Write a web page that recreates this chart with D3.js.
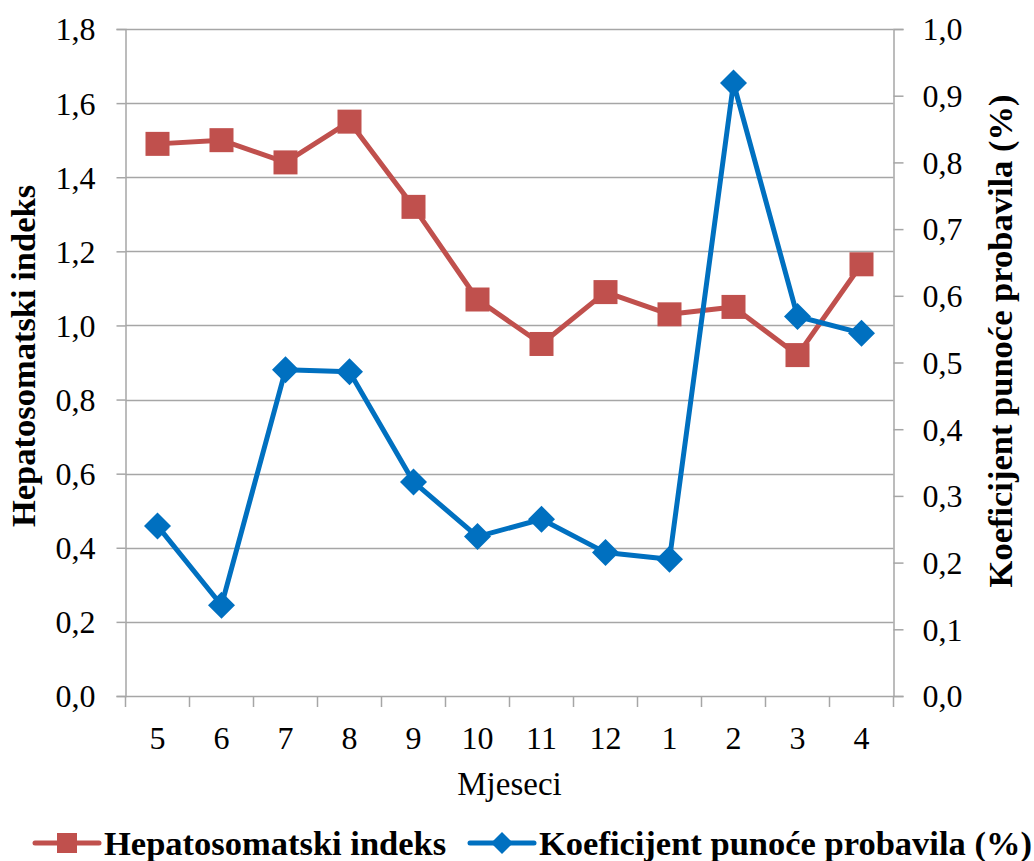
<!DOCTYPE html>
<html>
<head>
<meta charset="utf-8">
<script src="https://cdn.jsdelivr.net/npm/d3@7"></script>
<style>
  html, body { margin: 0; padding: 0; background: #fff; }
  svg { display: block; }
  text { font-family: "Liberation Serif", "Times New Roman", serif; fill: #000; }
</style>
</head>
<body>
<svg id="chart" width="1034" height="861"></svg>
<script>
// Months of the sampling year (May through April)
const months = ["5", "6", "7", "8", "9", "10", "11", "12", "1", "2", "3", "4"];
// Hepatosomatic index (left axis)
const hepatosomatskiIndeks = [1.49, 1.50, 1.44, 1.55, 1.32, 1.07, 0.95, 1.09, 1.03, 1.05, 0.92, 1.165];
// Gut fullness coefficient, % (right axis)
const koeficijentPunoce = [0.255, 0.136, 0.489, 0.486, 0.321, 0.239, 0.265, 0.215, 0.205, 0.919, 0.569, 0.544];
// Axis ticks
const leftTicks = [0, 0.2, 0.4, 0.6, 0.8, 1.0, 1.2, 1.4, 1.6, 1.8];
const rightTicks = [0, 0.1, 0.2, 0.3, 0.4, 0.5, 0.6, 0.7, 0.8, 0.9, 1.0];

const svg = d3.select("#chart");
const plot = { left: 125.5, right: 893.5, top: 29, bottom: 696 };
const red = "#C0504D", blue = "#0070C0", grid = "#a6a6a6";
const tickFont = 32;
const titleFont = 34.5;

const x = d3.scaleBand().domain(months).range([plot.left, plot.right]).padding(0);
const yL = d3.scaleLinear().domain([0, 1.8]).range([plot.bottom, plot.top]);
const yR = d3.scaleLinear().domain([0, 1.0]).range([plot.bottom, plot.top]);
const fmt = v => d3.format(".1f")(v).replace(".", ",");

// Horizontal gridlines from the left axis
svg.append("g").selectAll("line").data(leftTicks.slice(1)).join("line")
  .attr("x1", plot.left).attr("x2", plot.right)
  .attr("y1", d => Math.round(yL(d)) + 0.5).attr("y2", d => Math.round(yL(d)) + 0.5)
  .attr("stroke", grid).attr("stroke-width", 1.5);

// Left axis
const gL = svg.append("g").attr("transform", `translate(${plot.left},0)`)
  .call(d3.axisLeft(yL).tickValues(leftTicks).tickFormat(fmt).tickSize(9).tickPadding(21));
// Right axis
const gR = svg.append("g").attr("transform", `translate(${plot.right},0)`)
  .call(d3.axisRight(yR).tickValues(rightTicks).tickFormat(fmt).tickSize(10).tickPadding(19));
[gL, gR].forEach(g => {
  g.select(".domain").attr("stroke", grid).attr("stroke-width", 1.5);
  g.selectAll(".tick line").attr("stroke", grid).attr("stroke-width", 1.5);
  g.selectAll(".tick text").style("font-size", tickFont + "px").attr("dy", "0.34em");
});

// Bottom axis: labels centred in each band, ticks on band boundaries
const gX = svg.append("g").attr("transform", `translate(0,${plot.bottom})`)
  .call(d3.axisBottom(x).tickSize(0).tickPadding(30));
gX.select(".domain").attr("stroke", grid).attr("stroke-width", 1.5);
gX.selectAll(".tick text").style("font-size", tickFont + "px");
const boundaries = months.map(m => x(m)).concat([x.range()[1]]);
gX.append("g").selectAll("line").data(boundaries).join("line")
  .attr("x1", d => d).attr("x2", d => d).attr("y1", 0).attr("y2", 11)
  .attr("stroke", grid).attr("stroke-width", 1.5);

// Series
const cx = (d, i) => x(months[i]) + x.bandwidth() / 2;
const lineL = d3.line().x(cx).y(d => yL(d));
const lineR = d3.line().x(cx).y(d => yR(d));

svg.append("path").datum(hepatosomatskiIndeks).attr("d", lineL)
  .attr("fill", "none").attr("stroke", red).attr("stroke-width", 5).attr("stroke-linejoin", "round");
svg.append("g").selectAll("rect").data(hepatosomatskiIndeks).join("rect")
  .attr("x", (d, i) => cx(d, i) - 12).attr("y", d => yL(d) - 12)
  .attr("width", 24).attr("height", 24).attr("fill", red);

svg.append("path").datum(koeficijentPunoce).attr("d", lineR)
  .attr("fill", "none").attr("stroke", blue).attr("stroke-width", 5).attr("stroke-linejoin", "round");
const diamond = r => `M0,${-r}L${r},0L0,${r}L${-r},0Z`;
svg.append("g").selectAll("path").data(koeficijentPunoce).join("path")
  .attr("transform", (d, i) => `translate(${cx(d, i)},${yR(d)})`)
  .attr("d", diamond(13.5)).attr("fill", blue);

// Axis titles
svg.append("text").attr("transform", "translate(35,356) rotate(-90)")
  .attr("text-anchor", "middle").style("font-size", titleFont + "px").style("font-weight", "bold")
  .text("Hepatosomatski indeks");
svg.append("text").attr("transform", "translate(1000,341) rotate(-90)")
  .attr("text-anchor", "middle").attr("dy", "0.35em").style("font-size", titleFont + "px").style("font-weight", "bold")
  .text("Koeficijent punoće probavila (%)");
svg.append("text").attr("x", (plot.left + plot.right) / 2).attr("y", 795)
  .attr("text-anchor", "middle").style("font-size", "33px").text("Mjeseci");

// Legend
const legend = svg.append("g").attr("transform", "translate(0,843)");
const items = [
  { label: "Hepatosomatski indeks", color: red, x0: 35, marker: "square" },
  { label: "Koeficijent punoće probavila (%)", color: blue, x0: 470, marker: "diamond" }
];
items.forEach(it => {
  legend.append("line").attr("x1", it.x0).attr("x2", it.x0 + 64).attr("y1", 0).attr("y2", 0)
    .attr("stroke", it.color).attr("stroke-width", 5).attr("stroke-linecap", "round");
  if (it.marker === "square") {
    legend.append("rect").attr("x", it.x0 + 32 - 10).attr("y", -10).attr("width", 20).attr("height", 20).attr("fill", it.color);
  } else {
    legend.append("path").attr("transform", `translate(${it.x0 + 32},0)`).attr("d", diamond(11)).attr("fill", it.color);
  }
  legend.append("text").attr("x", it.x0 + 69).attr("y", 0).attr("dy", "0.35em")
    .style("font-size", titleFont + "px").style("font-weight", "bold").text(it.label);
});
</script>
</body>
</html>
